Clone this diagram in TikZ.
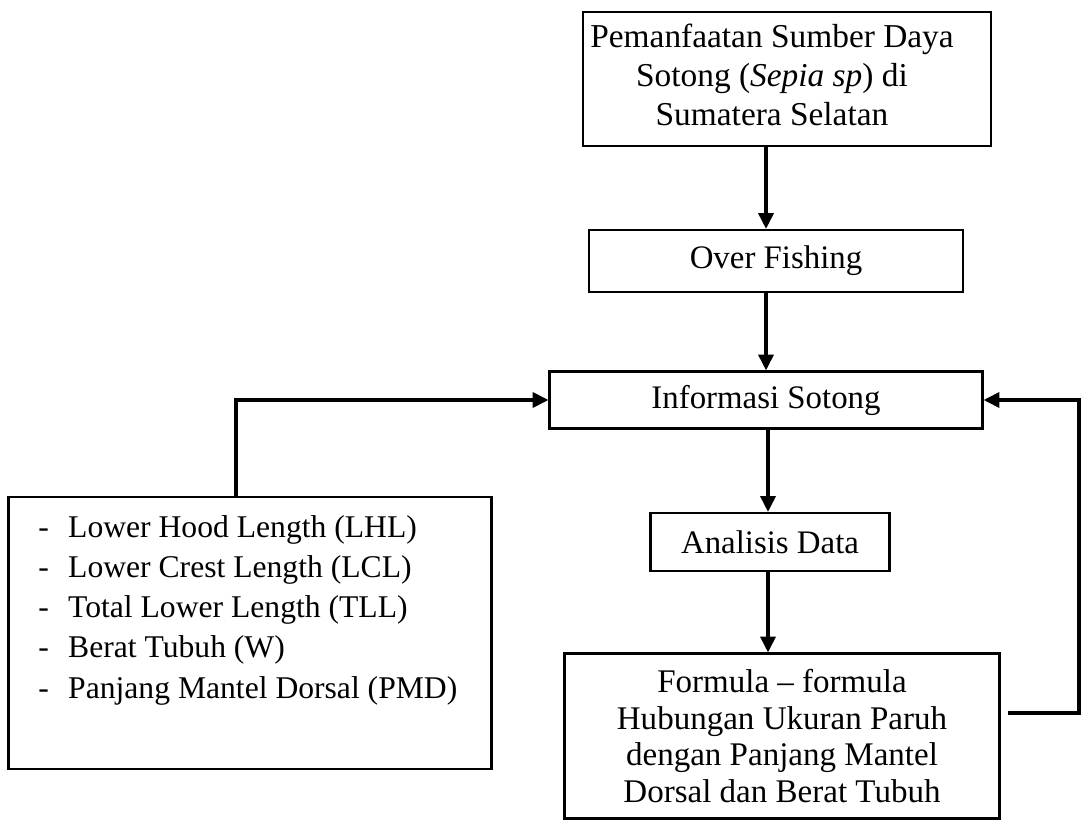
\documentclass[tikz,border=0pt]{standalone}
\usepackage{fontspec}
\setmainfont{Liberation Serif}
\usetikzlibrary{positioning, arrows.meta, calc}

\begin{document}
\begin{tikzpicture}[x=0.02cm, y=-0.02cm,
		box/.style={draw, line width=1.2pt, align=center, inner sep=2pt, font=\fontsize{18.7}{22.4}\selectfont},
		arr/.style={line width=2pt, -{Triangle[length=9pt, width=8.5pt]}}]
		\useasboundingbox (0,0) rectangle (1081,820);
		% main chain
		\node[box, minimum width=8.16cm, minimum height=2.68cm, font=\fontsize{19}{22.2}\selectfont] (src) at (787,79) {\begin{tabular}{@{}c@{}}Pemanfaatan Sumber Daya\\ Sotong (\textit{Sepia sp}) di\\ Sumatera Selatan\end{tabular}\hspace{0.6cm}};
		\node[box, minimum width=7.48cm, minimum height=1.24cm] (fish) at (776,261) {Over Fishing};
		\node[box, minimum width=8.66cm, minimum height=1.14cm] (info) at (766,400) {Informasi Sotong};
		\node[box, minimum width=4.78cm, minimum height=1.16cm] (anal) at (770,542) {Analisis Data};
		\node[box, minimum width=8.7cm, minimum height=3.3cm, font=\fontsize{18.8}{21}\selectfont] (form) at (782,736) {Formula -- formula\\ Hubungan Ukuran Paruh\\ dengan Panjang Mantel\\ Dorsal dan Berat Tubuh};
		% parameter box
		\node[box, minimum width=9.66cm, minimum height=5.44cm] (param) at (250,633) {};
		\foreach \i/\txt in {1/Lower Hood Length (LHL), 2/Lower Crest Length (LCL), 3/Total Lower Length (TLL), 4/Berat Tubuh (W), 5/Panjang Mantel Dorsal (PMD)}
			\node[anchor=base west, inner sep=0, font=\fontsize{18}{22}\selectfont] (p\i) at (38,{537+40.3*(\i-1)}) {-\hspace{11pt}\txt};
		% connectors
		\draw[arr] (src.south -| info) -- (fish.north -| info);
		\draw[arr] (fish.south -| info) -- (info.north);
		\draw[arr] ([xshift=0.04cm]info.south) -- ([xshift=0.04cm]info.south |- anal.north);
		\draw[arr] ([xshift=0.04cm]info.south |- anal.south) -- ([xshift=0.04cm]info.south |- form.north);
		\draw[arr] ([xshift=-0.28cm]param.north) |- (info.west);
		\coordinate (fbs) at (1008,713);
		\coordinate (fbc) at (1079,713);
		\draw[arr] (fbs) -- (fbc) |- (info.east);
	\end{tikzpicture}
\end{document}
